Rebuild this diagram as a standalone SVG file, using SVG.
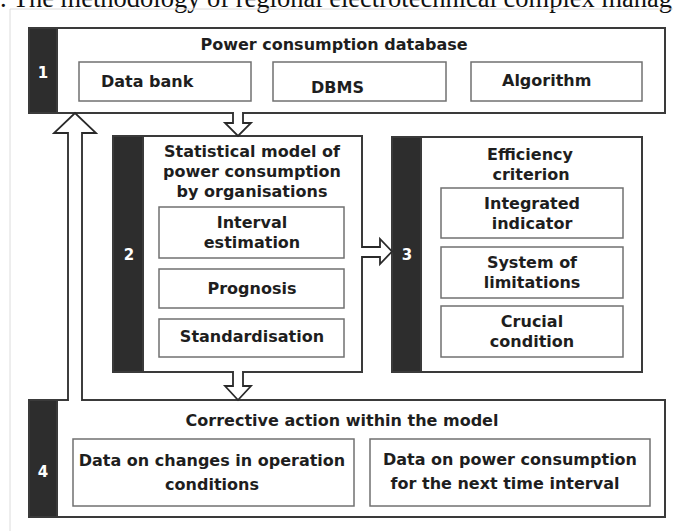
<svg xmlns="http://www.w3.org/2000/svg" width="673" height="531" viewBox="0 0 673 531">
<defs>
<style>
.box{fill:#fff;stroke:#3a3a3a;stroke-width:2}
.inner{fill:#fff;stroke:#707070;stroke-width:1.5}
.bar{fill:#2d2d2d;stroke:#3a3a3a;stroke-width:2}
.t{font-family:"DejaVu Sans",Verdana,sans-serif;font-weight:bold;font-size:16px;fill:#1e1e1e;text-anchor:middle}
.s{text-anchor:start}
.num{fill:#fff;font-size:15px}
.arrow{fill:#fff;stroke:#2a2a2a;stroke-width:1.8;stroke-linejoin:miter}
.gap{fill:#fff;stroke:none}
</style>
</defs>
<rect width="673" height="531" fill="#fff"/>
<text x="0" y="7" font-family="'Liberation Serif','Times New Roman',serif" font-size="26.5" fill="#111">. The methodology of regional electrotechnical complex manag</text>
<path d="M10,531 V9 H673" fill="none" stroke="#dcdcdc" stroke-width="1"/>

<g id="node1">
<rect class="box" x="29" y="28" width="636" height="85"/>
<rect class="bar" x="29" y="28" width="28" height="85"/>
<text class="t num" x="43" y="78">1</text>
<text class="t" x="334" y="50">Power consumption database</text>
<rect class="inner" x="79" y="62" width="172" height="39"/>
<text class="t s" x="101" y="87">Data bank</text>
<rect class="inner" x="273" y="62" width="173" height="39"/>
<text class="t s" x="311" y="93">DBMS</text>
<rect class="inner" x="471" y="62" width="171" height="39"/>
<text class="t s" x="502" y="86">Algorithm</text>
</g>

<g id="node2">
<rect class="box" x="113" y="136" width="249" height="236"/>
<rect class="bar" x="113" y="136" width="30" height="236"/>
<text class="t num" x="129" y="260">2</text>
<text class="t" x="252" y="157">Statistical model of</text>
<text class="t" x="252" y="177">power consumption</text>
<text class="t" x="252" y="197">by organisations</text>
<rect class="inner" x="159" y="207" width="185" height="51"/>
<text class="t" x="252" y="228">Interval</text>
<text class="t" x="252" y="248">estimation</text>
<rect class="inner" x="159" y="269" width="185" height="39"/>
<text class="t" x="252" y="294">Prognosis</text>
<rect class="inner" x="159" y="319" width="185" height="38"/>
<text class="t" x="252" y="342">Standardisation</text>
</g>

<g id="node3">
<rect class="box" x="392" y="137" width="250" height="235"/>
<rect class="bar" x="392" y="137" width="29" height="235"/>
<text class="t num" x="407" y="260">3</text>
<text class="t" x="530" y="160">Efficiency</text>
<text class="t" x="531" y="180">criterion</text>
<rect class="inner" x="441" y="188" width="182" height="50"/>
<text class="t" x="532" y="209">Integrated</text>
<text class="t" x="532" y="229">indicator</text>
<rect class="inner" x="441" y="247" width="182" height="51"/>
<text class="t" x="532" y="268">System of</text>
<text class="t" x="532" y="288">limitations</text>
<rect class="inner" x="441" y="306" width="182" height="51"/>
<text class="t" x="532" y="327">Crucial</text>
<text class="t" x="532" y="347">condition</text>
</g>

<g id="node4">
<rect class="box" x="29" y="400" width="636" height="117"/>
<rect class="bar" x="29" y="400" width="28" height="117"/>
<text class="t num" x="43" y="477">4</text>
<text class="t" x="342" y="426">Corrective action within the model</text>
<rect class="inner" x="73" y="439" width="281" height="67"/>
<text class="t" x="212" y="466">Data on changes in operation</text>
<text class="t" x="212" y="490">conditions</text>
<rect class="inner" x="370" y="439" width="280" height="67"/>
<text class="t" x="510" y="465">Data on power consumption</text>
<text class="t" x="505" y="489">for the next time interval</text>
</g>

<g id="connectors">
<path class="arrow" d="M68,400 V133 H54 L75,113 L96,133 H82 V400"/>
<rect class="gap" x="69" y="398" width="12" height="4"/>
<path class="arrow" d="M233,113 V123 H225 L238,136 L251,123 H243 V113"/>
<rect class="gap" x="234" y="111" width="8" height="4"/>
<path class="arrow" d="M362,247 H380 V239 L392,251.5 L380,264 V257 H362"/>
<rect class="gap" x="360" y="248" width="4" height="8"/>
<path class="arrow" d="M233,372 V386 H225 L238,400 L251,386 H243 V372"/>
<rect class="gap" x="234" y="370" width="8" height="4"/>
</g>
</svg>
